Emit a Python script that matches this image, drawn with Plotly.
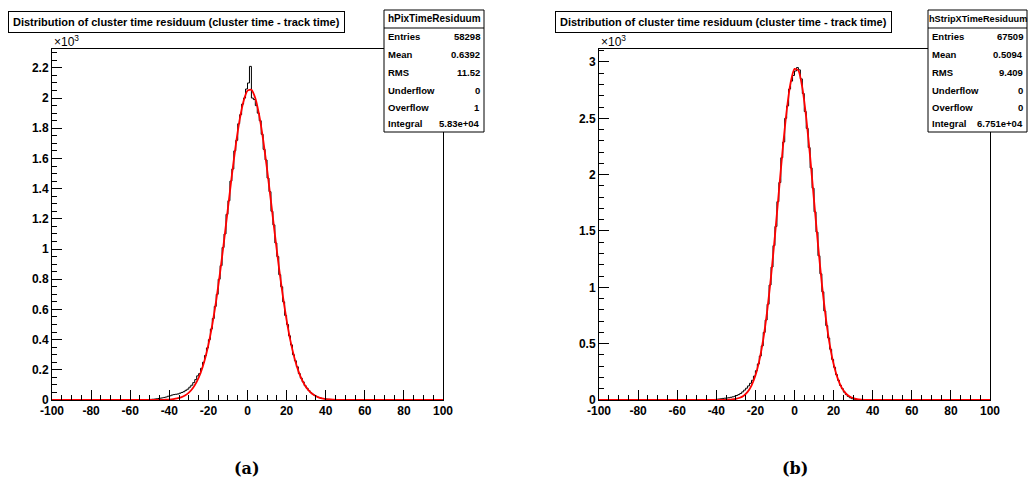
import plotly.graph_objects as go

# ---------------- data ----------------
# histogram bins: width 1, range -100..100; counts given from a first lower edge, zero elsewhere
pix_first_edge = -55
pix_counts = [1, 1, 2, 2, 3, 4, 5, 6, 8, 10,            # -55 .. -46
              12, 14, 17, 20, 25, 28, 33, 36, 38, 40,    # -45 .. -36
              45, 50, 55, 64, 72, 85, 98, 115, 135, 160, # -35 .. -26
              175, 210, 250, 295, 345, 400, 470, 540, 620, 700,     # -25 .. -16
              800, 890, 1010, 1100, 1230, 1320, 1450, 1530, 1650, 1720,  # -15 .. -6
              1830, 1890, 1960, 2000, 2060, 2100, 2210, 2000, 1990, 1950,  # -5 .. 4
              1900, 1850, 1760, 1660, 1590, 1470, 1380, 1250, 1160, 1040,  # 5 .. 14
              950, 830, 750, 650, 560, 500, 425, 365, 300, 260,  # 15 .. 24
              220, 175, 145, 120, 95, 78, 62, 48, 38, 30,        # 25 .. 34
              23, 17, 13, 10, 8, 6, 5, 4, 3, 2,                  # 35 .. 44
              2, 1, 1, 1, 0]                                     # 45 .. 49

strip_first_edge = -50
strip_counts = [0, 0, 1, 1, 1, 2, 2, 3, 4, 5,                 # -50 .. -41
                7, 9, 11, 14, 16, 18, 20, 24, 28, 33,         # -40 .. -31
                40, 48, 58, 72, 88, 105, 125, 148, 175, 212,  # -30 .. -21
                260, 320, 390, 480, 600, 710, 850, 1020, 1180, 1370,   # -20 .. -11
                1540, 1760, 1930, 2150, 2290, 2500, 2610, 2760, 2830, 2880,  # -10 .. -1
                2920, 2950, 2930, 2850, 2720, 2560, 2410, 2240, 2060, 1880,  # 0 .. 9
                1670, 1490, 1280, 1120, 960, 790, 660, 550, 450, 360,  # 10 .. 19
                290, 225, 175, 130, 100, 70, 48, 32, 20, 12,           # 20 .. 29
                7, 4, 3, 2, 1, 1, 0]                                   # 30 .. 36

pix_fit_x = [-100, -46, -44, -42, -40, -38, -36, -34, -32, -30, -28, -26, -24, -22, -20, -18, -16, -14,
             -12, -10, -8, -6, -4, -2, 0, 2, 4, 6, 8, 10, 12, 14, 16, 18, 20, 22, 24, 26, 28, 30,
             32, 34, 36, 38, 40, 42, 44, 46, 48, 100]
pix_fit_y = [0, 0.4, 0.8, 1.6, 3, 5.6, 10, 17.5, 30, 49, 78, 120, 179, 260, 366, 499, 660, 847,
             1054, 1271, 1488, 1688, 1857, 1981, 2049, 2055, 1999, 1885, 1724, 1529, 1315, 1097, 887, 696, 529, 390, 279, 193, 130, 85,
             54, 33, 19.5, 11, 6.3, 3.4, 1.8, 0.9, 0.4, 0]

strip_fit_x = [-100, -38, -36, -34, -32, -30, -28, -26, -24, -22, -20, -18, -16, -14, -12, -10, -8, -6, -4, -2,
               0, 2, 4, 6, 8, 10, 12, 14, 16, 18, 20, 22, 24, 26, 28, 30, 32, 34, 36, 38, 100]
strip_fit_y = [0, 0.3, 0.8, 2, 4.4, 9.6, 19.7, 38.6, 72, 128, 217, 349, 537, 786, 1097, 1459, 1848, 2231, 2567, 2814,
               2939, 2924, 2773, 2505, 2157, 1770, 1383, 1030, 731, 494, 319, 196, 114, 64, 34, 17, 8.3, 3.8, 1.7, 0.7, 0]

x_ticks = [-100, -80, -60, -40, -20, 0, 20, 40, 60, 80, 100]
pix_y_ticks = [0, 200, 400, 600, 800, 1000, 1200, 1400, 1600, 1800, 2000, 2200]
pix_y_text = ["0", "0.2", "0.4", "0.6", "0.8", "1", "1.2", "1.4", "1.6", "1.8", "2", "2.2"]
strip_y_ticks = [0, 500, 1000, 1500, 2000, 2500, 3000]
strip_y_text = ["0", "0.5", "1", "1.5", "2", "2.5", "3"]

title_text = "Distribution of cluster time residuum (cluster time - track time)"
pix_stats_name = "hPixTimeResiduum"
strip_stats_name = "hStripXTimeResiduum"
stat_labels = ["Entries", "Mean", "RMS", "Underflow", "Overflow", "Integral"]
pix_stat_values = ["58298", "0.6392", "11.52", "0", "1", "5.83e+04"]
strip_stat_values = ["67509", "0.5094", "9.409", "0", "0", "6.751e+04"]
captions = ["(a)", "(b)"]

# ---------------- figure ----------------
W, H = 1028, 489
FONT = "Liberation Sans, Arial, sans-serif"


def px(x):
    return x / W


def py(y):
    return 1 - y / H


def full_hist(first_edge, counts):
    vals = [0] * 200
    for i, c in enumerate(counts):
        vals[first_edge + 100 + i] = c
    edges = list(range(-100, 101))
    return edges, vals + [vals[-1]]


fig = go.Figure()

panels = [
    dict(xa="x", ya="y", first=pix_first_edge, counts=pix_counts, fx=pix_fit_x, fy=pix_fit_y),
    dict(xa="x2", ya="y2", first=strip_first_edge, counts=strip_counts, fx=strip_fit_x, fy=strip_fit_y),
]
for p in panels:
    ex, ey = full_hist(p["first"], p["counts"])
    fig.add_trace(go.Scatter(x=ex, y=ey, mode="lines", line=dict(color="black", width=1, shape="hv"),
                             xaxis=p["xa"], yaxis=p["ya"], hoverinfo="skip", showlegend=False))
    fig.add_trace(go.Scatter(x=p["fx"], y=p["fy"], mode="lines",
                             line=dict(color="#ff0000", width=1.8, shape="spline", smoothing=0.6),
                             xaxis=p["xa"], yaxis=p["ya"], hoverinfo="skip", showlegend=False))

tickfont = dict(family=FONT, size=12, color="black", weight="bold")

frames = [(52, 443), (599, 990)]
y_top, y_bot = 49, 400


def xaxis_def(l, r, anchor):
    return dict(domain=[px(l), px(r)], range=[-100, 100], anchor=anchor, showgrid=False, zeroline=False,
                automargin=False,
                showline=True, linecolor="black", linewidth=1, mirror=True,
                tickmode="array", tickvals=x_ticks, ticktext=[str(v) for v in x_ticks],
                ticks="inside", ticklen=10, tickcolor="black", tickwidth=1, tickfont=tickfont,
                minor=dict(dtick=5, tick0=0, ticks="inside", ticklen=5, tickcolor="black", showgrid=False))


def yaxis_def(ymax, tv, tt, minor_dtick, anchor):
    return dict(domain=[py(y_bot), py(y_top)], range=[0, ymax], anchor=anchor, showgrid=False, zeroline=False,
                automargin=False,
                showline=True, linecolor="black", linewidth=1, mirror=True,
                tickmode="array", tickvals=tv, ticktext=tt,
                ticks="inside", ticklen=10, tickcolor="black", tickwidth=1, tickfont=tickfont,
                minor=dict(dtick=minor_dtick, tick0=0, ticks="inside", ticklen=5, tickcolor="black", showgrid=False))


fig.update_layout(
    template="none",
    width=W, height=H, autosize=False,
    margin=dict(l=0, r=0, t=0, b=0, pad=0),
    paper_bgcolor="white", plot_bgcolor="white",
    xaxis=xaxis_def(*frames[0], "y"),
    yaxis=yaxis_def(2325, pix_y_ticks, pix_y_text, 50, "x"),
    xaxis2=xaxis_def(*frames[1], "y2"),
    yaxis2=yaxis_def(3115, strip_y_ticks, strip_y_text, 100, "x2"),
)

shapes = []
annotations = []

# title boxes
for tx in (8, 555):
    annotations.append(dict(xref="paper", yref="paper", x=px(tx), y=py(22), xanchor="left", yanchor="middle",
                            text=title_text, showarrow=False, bgcolor="white", bordercolor="black",
                            borderwidth=1, borderpad=4,
                            font=dict(family=FONT, size=11, color="black", weight="bold")))

# stat boxes
stat_boxes = [(384, 484, pix_stats_name, pix_stat_values, 10), (928, 1027, strip_stats_name, strip_stat_values, 9.2)]
box_top, box_sep, box_bot = 10, 28, 132
row_y = [37, 55, 72, 90, 107, 124]
for (l, r, name, vals, hsize) in stat_boxes:
    shapes.append(dict(type="rect", xref="paper", yref="paper", x0=px(l), x1=px(r), y0=py(box_bot), y1=py(box_top),
                       fillcolor="white", line=dict(color="black", width=1), layer="above"))
    shapes.append(dict(type="line", xref="paper", yref="paper", x0=px(l), x1=px(r), y0=py(box_sep), y1=py(box_sep),
                       line=dict(color="black", width=1), layer="above"))
    annotations.append(dict(xref="paper", yref="paper", x=px((l + r) / 2), y=py(19), xanchor="center",
                            yanchor="middle", text=name, showarrow=False,
                            font=dict(family=FONT, size=hsize, color="black", weight="bold")))
    for lab, val, yy in zip(stat_labels, vals, row_y):
        annotations.append(dict(xref="paper", yref="paper", x=px(l + 2), y=py(yy), xanchor="left",
                                yanchor="middle", text=lab, showarrow=False,
                                font=dict(family=FONT, size=9.5, color="black", weight="bold")))
        annotations.append(dict(xref="paper", yref="paper", x=px(r - 2), y=py(yy), xanchor="right",
                                yanchor="middle", text=val, showarrow=False,
                                font=dict(family=FONT, size=9.5, color="black", weight="bold")))

# x10^3 labels
for lx in (52, 599):
    annotations.append(dict(xref="paper", yref="paper", x=px(lx), y=py(51), xanchor="left", yanchor="bottom",
                            text="×10<sup>3</sup>", showarrow=False,
                            font=dict(family=FONT, size=12, color="black")))

# captions
for cx, cap in zip((247, 795), captions):
    annotations.append(dict(xref="paper", yref="paper", x=px(cx), y=py(468), xanchor="center", yanchor="middle",
                            text=cap, showarrow=False,
                            font=dict(family="DejaVu Serif, serif", size=16, color="black", weight="bold")))

fig.update_layout(shapes=shapes, annotations=annotations)
fig.write_html("out.html", config={"displayModeBar": False},
               post_script="document.body.style.margin='0';document.body.style.overflow='hidden';")
